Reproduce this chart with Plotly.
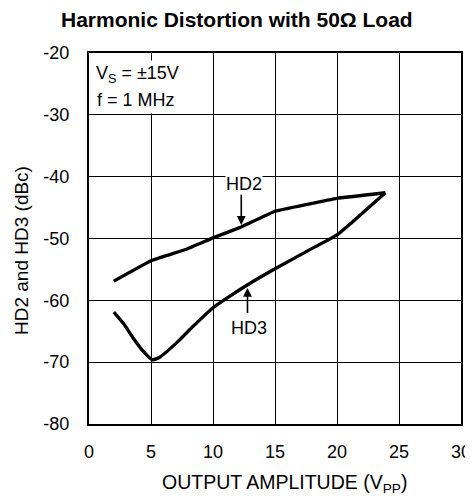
import plotly.graph_objects as go

hd2_x = [2, 5, 7.9, 10, 12.2, 15, 20, 23.9]
hd2_y = [-56.9, -53.6, -51.7, -49.9, -48.2, -45.6, -43.5, -42.6]

hd3_x = [2, 2.8, 3.6, 4.4, 5.1, 5.7, 7.1, 8.4, 10, 11, 12.7, 15, 18, 20, 21.2, 23.9]
hd3_y = [-61.9, -63.8, -66.2, -68.3, -69.6, -69.2, -66.8, -64.2, -61.2, -59.8, -57.6, -54.9, -51.6, -49.4, -47.4, -42.6]

x_ticks = [0, 5, 10, 15, 20, 25, 30]
x_labels = ["0", "5", "10", "15", "20", "25", "30"]
y_ticks = [-20, -30, -40, -50, -60, -70, -80]
y_labels = ["-20", "-30", "-40", "-50", "-60", "-70", "-80"]

FONT = "Liberation Sans, Arial, sans-serif"
# page body has an 8px margin, so the figure is sized/positioned to compensate
W, H = 465, 490
L, R, T, B = 81, 12, 45, 74
PW, PH = W - L - R, H - T - B


def px(xp):
    return (xp - L) / PW


def py(yp):
    return (H - B - yp) / PH


fig = go.Figure()
fig.add_trace(go.Scatter(x=hd2_x, y=hd2_y, mode="lines",
                         line=dict(color="black", width=3.3, shape="spline", smoothing=0.2),
                         showlegend=False, hoverinfo="skip"))
fig.add_trace(go.Scatter(x=hd3_x, y=hd3_y, mode="lines",
                         line=dict(color="black", width=3.3, shape="spline", smoothing=0.5),
                         showlegend=False, hoverinfo="skip"))

fig.update_layout(
    width=W, height=H,
    margin=dict(l=L, r=R, t=T, b=B, autoexpand=False),
    paper_bgcolor="white", plot_bgcolor="white",
    font=dict(family=FONT, size=18, color="black"),
    xaxis=dict(range=[0, 30], tickvals=x_ticks, ticktext=x_labels, showgrid=True,
               gridcolor="black", gridwidth=1.3, zeroline=False, showline=True,
               linecolor="black", linewidth=2.2, mirror=True, ticks="", automargin=False,
               ticklabelstandoff=10, tickfont=dict(size=18)),
    yaxis=dict(range=[-80, -20], tickvals=y_ticks, ticktext=y_labels, showgrid=True,
               gridcolor="black", gridwidth=1.3, zeroline=False, showline=True,
               linecolor="black", linewidth=2.2, mirror=True, ticks="", automargin=False,
               ticklabelstandoff=14, tickfont=dict(size=18)),
)

# chart title
fig.add_annotation(xref="paper", yref="paper", x=px(228.5), y=py(12),
                   text="<b>Harmonic Distortion with 50Ω Load</b>", showarrow=False,
                   xanchor="center", yanchor="middle", font=dict(size=21))
# axis titles
fig.add_annotation(xref="paper", yref="paper", x=px(276), y=py(475),
                   text="OUTPUT AMPLITUDE (V<sub>PP</sub>)", showarrow=False,
                   xanchor="center", yanchor="middle", font=dict(size=19.5))
fig.add_annotation(xref="paper", yref="paper", x=px(13), y=py(243),
                   text="HD2 and HD3 (dBc)", showarrow=False, textangle=-90,
                   xanchor="center", yanchor="middle", font=dict(size=19))

# conditions box
fig.add_annotation(x=0.35, y=-27.63, xref="x", yref="y", xanchor="left", yanchor="middle",
                   text="f = 1 MHz", showarrow=False, align="left",
                   bgcolor="white", font=dict(size=18), borderpad=3)
fig.add_annotation(x=0.35, y=-23.5, xref="x", yref="y", xanchor="left", yanchor="middle",
                   text="V<sub>S</sub> = ±15V", showarrow=False, align="left",
                   bgcolor="white", font=dict(size=18), borderpad=2)

fig.add_annotation(x=12.28, y=-47.8, ax=12.28, ay=-42.6, xref="x", yref="y", axref="x", ayref="y",
                   text="", showarrow=True, arrowhead=2, arrowsize=1.1, arrowwidth=1.6, arrowcolor="black")
fig.add_annotation(x=12.52, y=-41.2, xref="x", yref="y", text="HD2", showarrow=False,
                   bgcolor="white", font=dict(size=18), yanchor="middle", borderpad=0)

fig.add_annotation(x=12.78, y=-58.0, ax=12.78, ay=-62.3, xref="x", yref="y", axref="x", ayref="y",
                   text="", showarrow=True, arrowhead=2, arrowsize=1.1, arrowwidth=1.6, arrowcolor="black")
fig.add_annotation(x=12.92, y=-64.4, xref="x", yref="y", text="HD3", showarrow=False,
                   font=dict(size=18), yanchor="middle")

fig.write_html("out.html")
